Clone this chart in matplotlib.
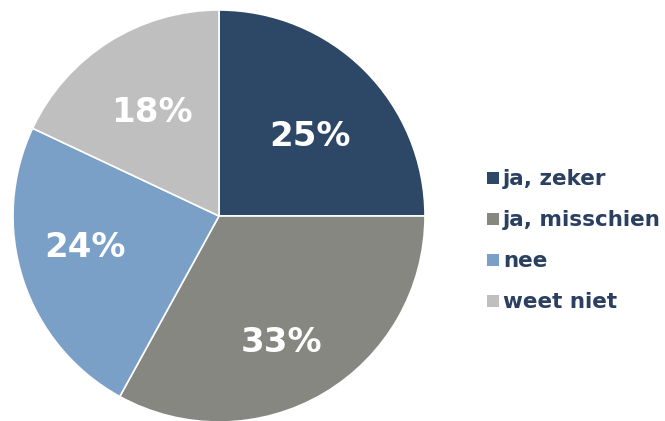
import matplotlib
matplotlib.use("Agg")
import matplotlib.pyplot as plt
import numpy as np
from matplotlib.patches import Rectangle

categories = ["ja, zeker", "ja, misschien", "nee", "weet niet"]
values = [25, 33, 24, 18]
colors = ["#2c4866", "#878782", "#7aa0c8", "#bfbfbf"]
# label placement style (distance from centre, angular nudge in degrees)
label_dist = [0.596, 0.673, 0.666, 0.608]
label_nudge = [-2.9, -4.0, -5.6, 0.2]

W, H = 665, 421
fig = plt.figure(figsize=(W / 100, H / 100), dpi=100)
cx, cy, r = 219, 216, 206
ax = fig.add_axes([(cx - r) / W, (H - cy - r) / H, 2 * r / W, 2 * r / H])
wedges, _ = ax.pie(values, colors=colors, startangle=90, counterclock=False,
                   wedgeprops=dict(edgecolor="white", linewidth=1.2))
ax.set_xlim(-1, 1)
ax.set_ylim(-1, 1)
ax.set_aspect("equal")
ax.axis("off")

for w, v, d, n in zip(wedges, values, label_dist, label_nudge):
    ang = np.deg2rad((w.theta1 + w.theta2) / 2 + n)
    ax.text(d * np.cos(ang), d * np.sin(ang) - 0.012, f"{v}%", ha="center", va="center",
            color="white", fontsize=24.5, fontweight="bold", family="DejaVu Sans")

text_color = "#2b4060"
base0 = 185
step = 41
for i, (c, col) in enumerate(zip(categories, colors)):
    yb = base0 + i * step
    fig.patches.append(Rectangle((487 / W, (H - yb + 1) / H), 12 / W, 12 / H,
                                 transform=fig.transFigure, facecolor=col,
                                 edgecolor="none"))
    fig.text(503 / W, (H - yb) / H, c, ha="left", va="baseline",
             fontsize=15.5, fontweight="bold", color=text_color, family="DejaVu Sans")

fig.savefig("out.png", dpi=100)
